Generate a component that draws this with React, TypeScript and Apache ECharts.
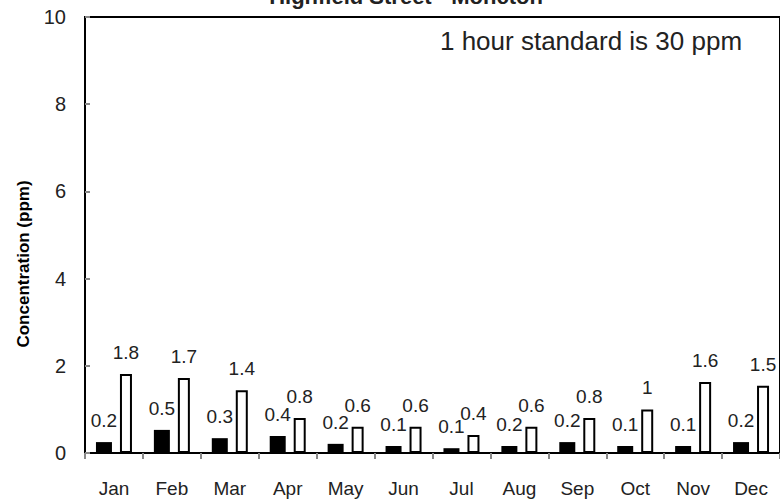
import React, { useEffect, useRef } from "react";
import * as echarts from "echarts";

const months = ["Jan", "Feb", "Mar", "Apr", "May", "Jun", "Jul", "Aug", "Sep", "Oct", "Nov", "Dec"];
const avgValues = [0.25, 0.53, 0.34, 0.39, 0.21, 0.16, 0.11, 0.16, 0.25, 0.16, 0.16, 0.25];
const avgLabels = ["0.2", "0.5", "0.3", "0.4", "0.2", "0.1", "0.1", "0.2", "0.2", "0.1", "0.1", "0.2"];
const maxValues = [1.81, 1.72, 1.44, 0.8, 0.6, 0.6, 0.41, 0.6, 0.8, 1.0, 1.63, 1.54];
const maxLabels = ["1.8", "1.7", "1.4", "0.8", "0.6", "0.6", "0.4", "0.6", "0.8", "1", "1.6", "1.5"];
const yMin = 0;
const yMax = 10;
const yInterval = 2;
const titleText = "Highfield Street - Moncton";
const yAxisTitle = "Concentration (ppm)";
const noteText = "1 hour standard is 30 ppm";

const FONT = "'Liberation Sans', Arial, sans-serif";
const TXT = "#222";

export default function App() {
  const ref = useRef<HTMLDivElement>(null);
  useEffect(() => {
    if (!ref.current) return;
    const chart = echarts.init(ref.current, undefined, { renderer: "svg" });
    chart.setOption({
      animation: false,
      backgroundColor: "#fff",
      textStyle: { fontFamily: FONT },
      grid: {
        left: 85,
        top: 17,
        right: -3,
        bottom: 46,
        show: true,
        borderColor: "#000",
        borderWidth: 2,
        containLabel: false,
      },
      xAxis: {
        type: "category",
        data: months,
        axisLine: { lineStyle: { color: "#000", width: 2 } },
        axisTick: { show: true, inside: false, length: 6, lineStyle: { color: "#888", width: 2 } },
        axisLabel: { color: TXT, fontSize: 19, fontFamily: FONT, margin: 26 },
        splitLine: { show: false },
      },
      yAxis: {
        type: "value",
        min: yMin,
        max: yMax,
        interval: yInterval,
        axisLine: { show: true, lineStyle: { color: "#000", width: 2 } },
        axisTick: { show: true, inside: true, length: 5, lineStyle: { color: "#888", width: 2 } },
        axisLabel: { color: TXT, fontSize: 20, fontFamily: FONT, margin: 19, padding: [6, 0, 0, 0] },
        splitLine: { show: false },
      },
      graphic: [
        {
          type: "text",
          x: 406,
          y: -4,
          style: {
            text: titleText,
            font: `bold 22px ${FONT}`,
            fill: TXT,
            textAlign: "center",
            textVerticalAlign: "middle",
          },
        },
        {
          type: "text",
          x: 591,
          y: 41,
          style: {
            text: noteText,
            font: `26px ${FONT}`,
            fill: TXT,
            textAlign: "center",
            textVerticalAlign: "middle",
          },
        },
        {
          type: "text",
          x: 23,
          y: 264,
          rotation: Math.PI / 2,
          style: {
            text: yAxisTitle,
            font: `bold 17px ${FONT}`,
            fill: "#000",
            textAlign: "center",
            textVerticalAlign: "middle",
          },
        },
      ],
      series: [
        {
          type: "bar",
          data: avgValues,
          barWidth: 16,
          barGap: "50%",
          itemStyle: { color: "#000" },
          label: {
            show: true,
            position: "top",
            distance: 12,
            color: TXT,
            fontSize: 19,
            fontFamily: FONT,
            formatter: (p: any) => avgLabels[p.dataIndex],
          },
        },
        {
          type: "bar",
          data: maxValues,
          barWidth: 12,
          itemStyle: { color: "#fff", borderColor: "#000", borderWidth: 2 },
          label: {
            show: true,
            position: "top",
            distance: 12,
            color: TXT,
            fontSize: 19,
            fontFamily: FONT,
            formatter: (p: any) => maxLabels[p.dataIndex],
          },
        },
      ],
    });
    return () => chart.dispose();
  }, []);
  return (
    <div
      ref={ref}
      style={{ position: "fixed", left: 0, top: 0, width: 780, height: 499, background: "#fff" }}
    />
  );
}
